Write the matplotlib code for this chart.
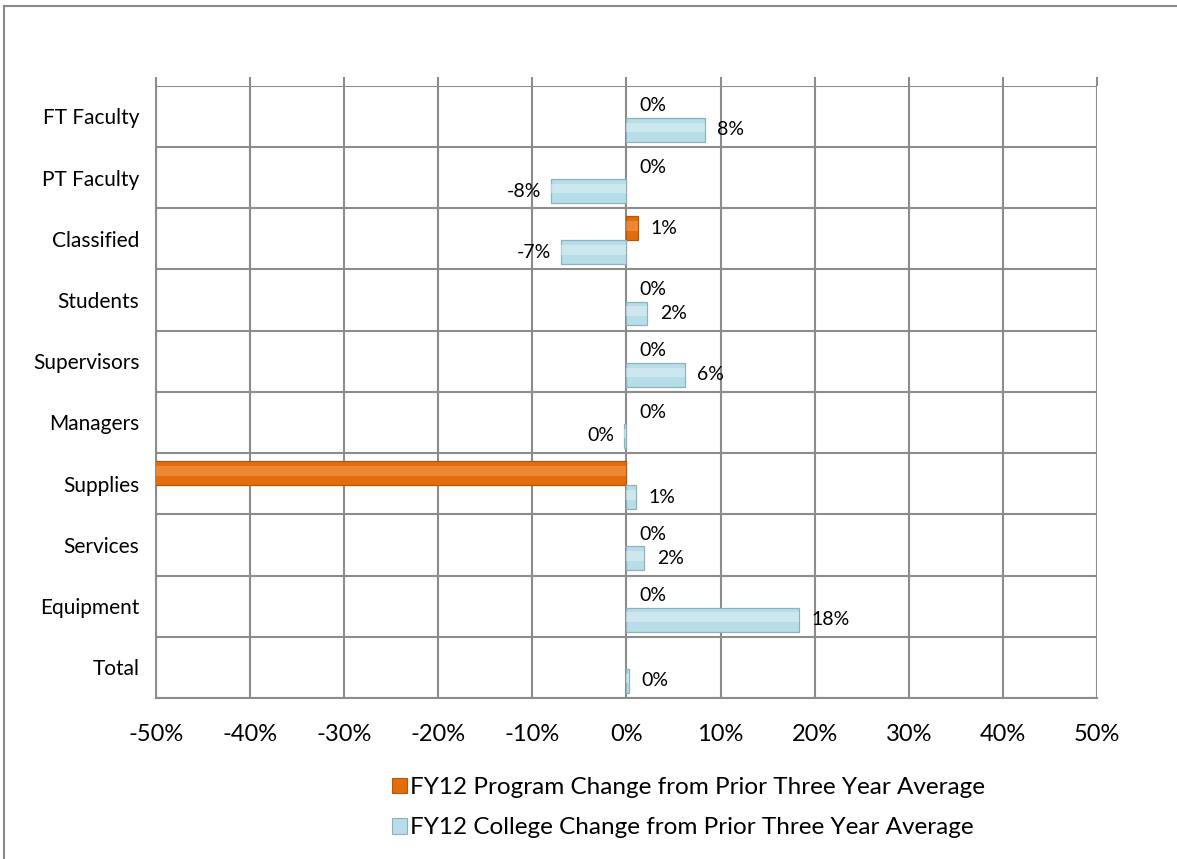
import numpy as np
import matplotlib
matplotlib.use("Agg")
import matplotlib.pyplot as plt
from matplotlib.patches import Patch
from matplotlib.lines import Line2D

plt.rcParams['font.family'] = ['Lato', 'DejaVu Sans']

categories = ["FT Faculty", "PT Faculty", "Classified", "Students", "Supervisors",
              "Managers", "Supplies", "Services", "Equipment", "Total"]
# values in percent; Supplies program runs off the left of the axis, Total program is blank
program = [0, 0, 1.2, 0, 0, 0, -100, 0, 0, np.nan]
college = [8.3, -8.0, -7.0, 2.2, 6.2, -0.3, 1.0, 1.9, 18.3, 0.3]
xticks = [-50, -40, -30, -20, -10, 0, 10, 20, 30, 40, 50]
legend_labels = ["FY12 Program Change from Prior Three Year Average",
                 "FY12 College Change from Prior Three Year Average"]

grid_col = "#8c8c8c"
orange, orange_hi, orange_edge = "#e46c0a", "#f8a866", "#b85607"
blue, blue_hi, blue_edge = "#b7dde8", "#e8f5f8", "#8eb2bc"

fig = plt.figure(figsize=(11.77, 8.59), dpi=100)
ax = fig.add_axes([0.1325, 0.1874, 0.7995, 0.7128])

y = np.arange(len(categories))
h = 0.39
off_p, off_c = -0.17, 0.22


def draw_bars(vals, offset, base, hi, edge):
    for yi, v in zip(y, vals):
        if np.isnan(v) or v == 0:
            continue
        ax.barh(yi + offset, v, height=h, color=base, edgecolor=edge, linewidth=0.9, zorder=3)
        ax.barh(yi + offset - h * 0.1, v, height=h * 0.4, color=hi, alpha=0.45,
                linewidth=0, zorder=4)


def draw_labels(vals, offset):
    for yi, v in zip(y, vals):
        if np.isnan(v) or v < -50 or v > 50:
            continue
        txt = f"{int(round(v))}%"
        if v < 0:
            ax.annotate(txt, (v, yi + offset), xytext=(-7, 0), textcoords="offset points",
                        ha="right", va="center", fontsize=14, color="#000000", zorder=5)
        else:
            ax.annotate(txt, (v, yi + offset), xytext=(9, 0), textcoords="offset points",
                        ha="left", va="center", fontsize=14, color="#000000", zorder=5)


draw_bars(program, off_p, orange, orange_hi, orange_edge)
draw_bars(college, off_c, blue, blue_hi, blue_edge)
draw_labels(program, off_p)
draw_labels(college, off_c)

ax.set_xlim(-50, 50)
ax.set_ylim(len(categories) - 0.5, -0.5)
ax.set_xticks(xticks)
ax.set_xticklabels([f"{t}%" for t in xticks], fontsize=17)
ax.set_yticks(y)
ax.set_yticklabels(categories, fontsize=15)

for k in range(len(categories) + 1):
    ax.axhline(k - 0.5, color=grid_col, linewidth=1.5, zorder=1)
ax.grid(axis="x", color=grid_col, linewidth=1.5, zorder=1)
ax.set_axisbelow(True)

for s in ["top", "right"]:
    ax.spines[s].set_visible(False)
for s in ["left", "bottom"]:
    ax.spines[s].set_color(grid_col)
    ax.spines[s].set_linewidth(1.5)

ax.tick_params(axis="x", top=True, bottom=False, labeltop=False, labelbottom=True,
               direction="out", length=6.5, width=1.5, color=grid_col, pad=12)
ax.tick_params(axis="y", length=0, pad=12)

handles = [Patch(facecolor=orange, edgecolor=orange_edge, linewidth=0.8),
           Patch(facecolor=blue, edgecolor=blue_edge, linewidth=0.8)]
fig.legend(handles, legend_labels, loc="upper left", bbox_to_anchor=(392 / 1177, 1 - 777 / 859),
           frameon=False, fontsize=17.5, handlelength=0.6, handleheight=0.6,
           handletextpad=0.15, labelspacing=0.8, borderpad=0, borderaxespad=0)

# outer chart-area border (only top and left edges fall inside the picture)
fig.add_artist(Line2D([4 / 1177, 4 / 1177], [0, 1 - 6 / 859], transform=fig.transFigure,
                      color="#8a8a8a", linewidth=1.5))
fig.add_artist(Line2D([4 / 1177, 1], [1 - 6 / 859, 1 - 6 / 859], transform=fig.transFigure,
                      color="#8a8a8a", linewidth=1.5))

fig.savefig("out.png", dpi=100)
